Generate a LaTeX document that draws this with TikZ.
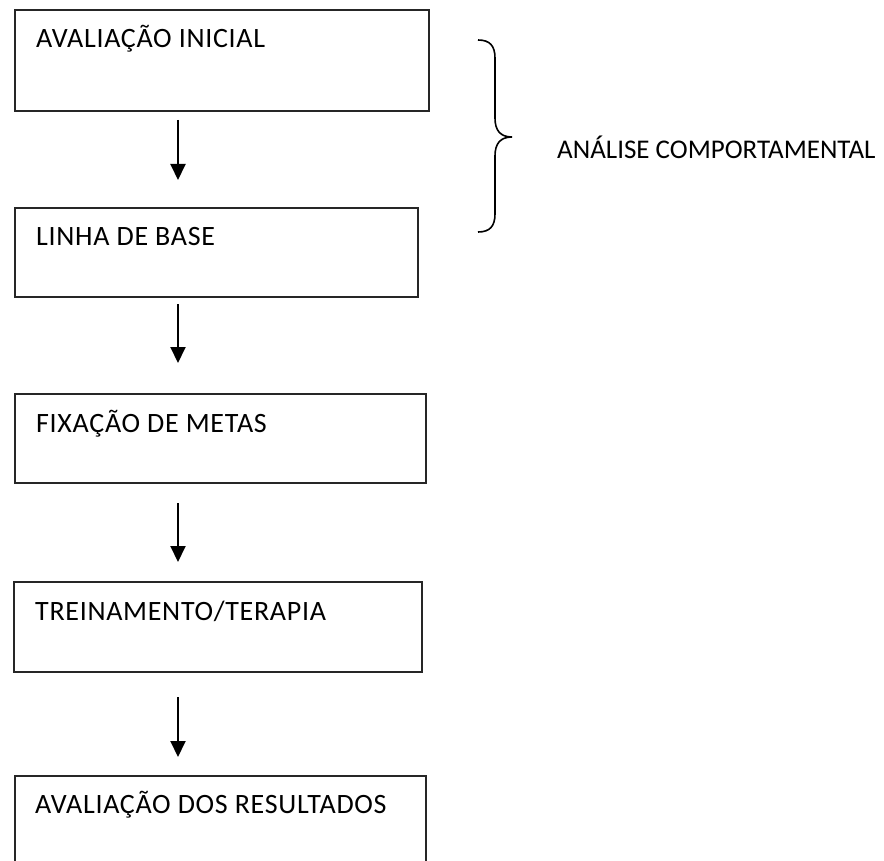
\documentclass[tikz,border=0pt]{standalone}
\usepackage{fontspec}
\setmainfont{Carlito}
\usetikzlibrary{arrows.meta}
\begin{document}
\begin{tikzpicture}[x=1pt,y=-1pt,
  box/.style={draw=black!85, line width=2pt, minimum width=#1, inner sep=0pt, minimum height=89pt, anchor=north west},
  lbl/.style={font=\fontsize{28}{32}\selectfont\addfontfeature{LetterSpace=2.5}, inner sep=0pt, anchor=base west},
  side/.style={font=\fontsize{27}{31}\selectfont, inner sep=0pt, anchor=base west},
  arr/.style={line width=2pt, -{Triangle[width=15pt,length=16pt]}},
  brace/.style={line width=1.6pt}]
\clip (0,0) rectangle (884,861);
\useasboundingbox (0,0) rectangle (884,861);
\node[box=414pt, minimum height=101pt] (b1) at (14,9) {};
\node[lbl] (t1) at (36,48) {AVALIAÇÃO INICIAL};
\node[box=403pt] (b2) at (14,207) {};
\node[lbl] (t2) at (36,246) {LINHA DE BASE};
\node[box=411pt] (b3) at (14,393) {};
\node[lbl] (t3) at (36,432) {FIXAÇÃO DE METAS};
\node[box=408pt, minimum height=90pt] (b4) at (13,581) {};
\node[lbl] (t4) at (35,620) {TREINAMENTO/TERAPIA};
\node[box=411pt, minimum height=120pt] (b5) at (14,775) {};
\node[lbl] (t5) at (35,813) {AVALIAÇÃO DOS RESULTADOS};
\coordinate (a1s) at (178,120); \coordinate (a1e) at (178,180);
\coordinate (a2s) at (178,304); \coordinate (a2e) at (178,363);
\coordinate (a3s) at (178,503); \coordinate (a3e) at (178,562);
\coordinate (a4s) at (178,697); \coordinate (a4e) at (178,757);
\draw[arr] (a1s) -- (a1e);
\draw[arr] (a2s) -- (a2e);
\draw[arr] (a3s) -- (a3e);
\draw[arr] (a4s) -- (a4e);
\coordinate (br1) at (478,40);
\coordinate (brtip) at (512,137);
\coordinate (br2) at (478,232);
\draw[brace] (br1) .. controls (490,40) and (495,46) .. (495,58) -- (495,118)
  .. controls (495,130) and (500,137) .. (brtip)
  .. controls (500,137) and (495,144) .. (495,156) -- (495,214)
  .. controls (495,226) and (490,232) .. (br2);
\node[side] (t6) at (557,159) {ANÁLISE COMPORTAMENTAL};
\end{tikzpicture}
\end{document}
